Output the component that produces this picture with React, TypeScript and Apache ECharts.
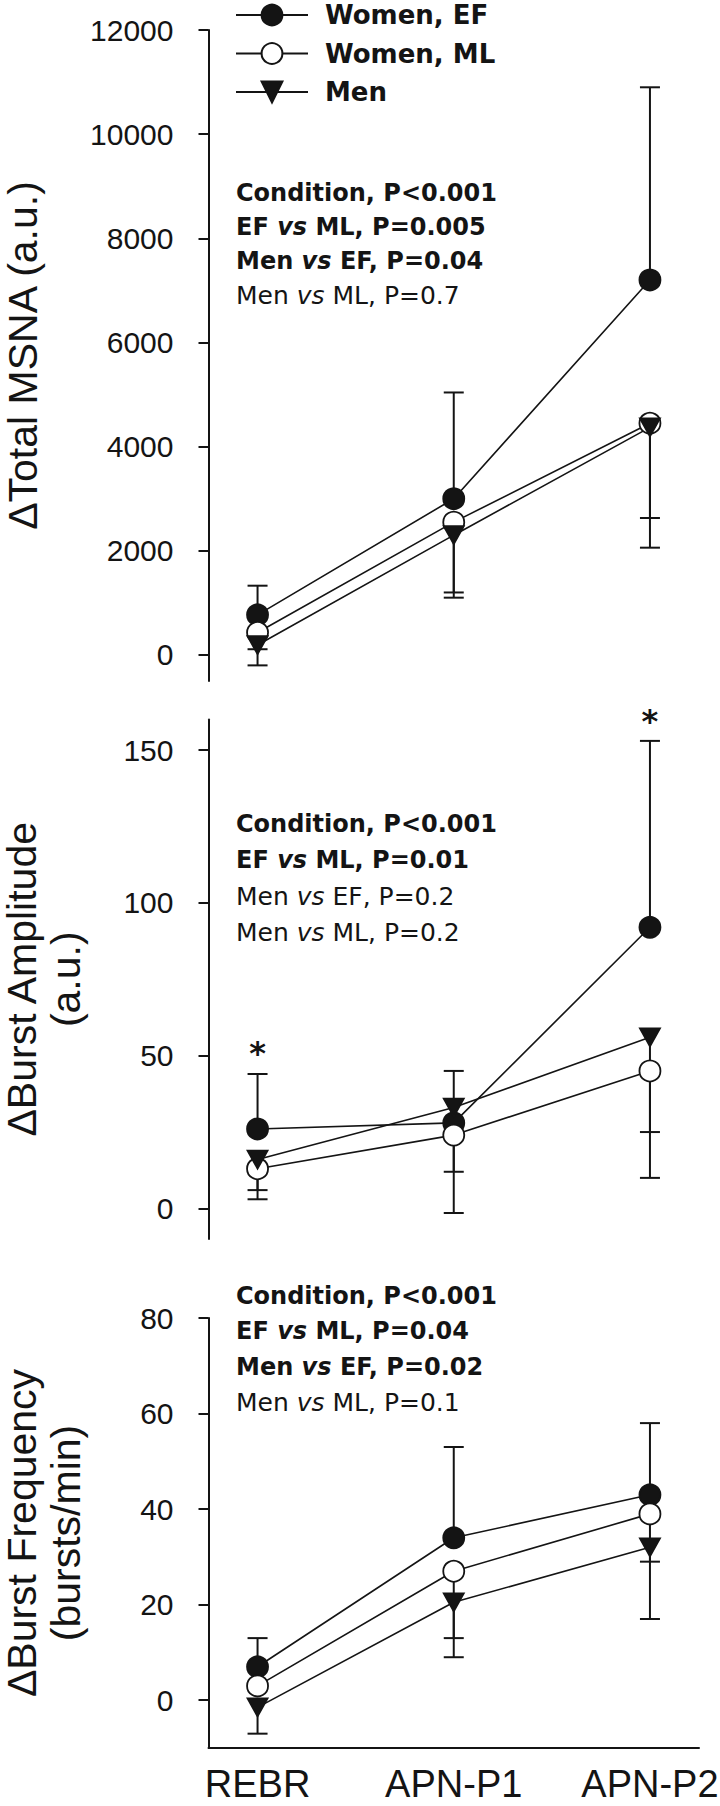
import React, { useEffect, useRef } from 'react';
import * as echarts from 'echarts';

const categories = ['REBR', 'APN-P1', 'APN-P2'];
const groupNames = ['Women, EF', 'Women, ML', 'Men'];

// ΔTotal MSNA (a.u.)
const msnaEF = [770, 3000, 7200];
const msnaEFUpper = [1330, 5040, 10900];
const msnaML = [430, 2550, 4450];
const msnaMLLower = [110, 1200, 2630];
const msnaMen = [190, 2300, 4370];
const msnaMenLower = [-200, 1100, 2060];
const msnaTicks = [0, 2000, 4000, 6000, 8000, 10000, 12000];

// ΔBurst Amplitude (a.u.)
const ampEF = [26, 28, 92];
const ampEFUpper = [44, 45, 153];
const ampML = [13, 24, 45];
const ampMLLower = [3, -1.5, 10];
const ampMen = [16, 33, 56];
const ampMenLower = [6, 12, 25];
const ampTicks = [0, 50, 100, 150];
const ampSignificance = [51, null, 159.5];

// ΔBurst Frequency (bursts/min)
const freqEF = [7, 34, 43];
const freqEFUpper = [13, 53, 58];
const freqML = [3, 27, 39];
const freqMLLower = [null, 13, 29];
const freqMen = [-1.5, 20.5, 32];
const freqMenLower = [-7, 9, 17];
const freqTicks = [0, 20, 40, 60, 80];

const msnaStats = [
  { text: 'Condition, P<0.001', bold: true },
  { text: 'EF vs ML, P=0.005', bold: true },
  { text: 'Men vs EF, P=0.04', bold: true },
  { text: 'Men vs ML, P=0.7', bold: false },
];
const ampStats = [
  { text: 'Condition, P<0.001', bold: true },
  { text: 'EF vs ML, P=0.01', bold: true },
  { text: 'Men vs EF, P=0.2', bold: false },
  { text: 'Men vs ML, P=0.2', bold: false },
];
const freqStats = [
  { text: 'Condition, P<0.001', bold: true },
  { text: 'EF vs ML, P=0.04', bold: true },
  { text: 'Men vs EF, P=0.02', bold: true },
  { text: 'Men vs ML, P=0.1', bold: false },
];

const WIDE = 'DejaVu Sans';
const ARIAL = 'Liberation Sans';
const INK = '#141414';
const TRIANGLE = 'path://M0,0L20,0L10,18Z';

const symbols = ['circle', 'circle', TRIANGLE];
const symbolSizes: any[] = [21, 21, [20, 18]];
const fills = [INK, '#ffffff', INK];

const panels = [
  {
    top: 30, height: 651, min: -500, max: 12000, ticks: msnaTicks,
    title: 'ΔTotal MSNA (a.u.)', nameGap: 164,
    values: [msnaEF, msnaML, msnaMen], errors: [msnaEFUpper, msnaMLLower, msnaMenLower],
    stats: msnaStats, statsY: 176, statsLH: 34,
  },
  {
    top: 719.5, height: 519.5, min: -10, max: 160, ticks: ampTicks,
    title: 'ΔBurst Amplitude\n(a.u.)', nameGap: 120.5,
    values: [ampEF, ampML, ampMen], errors: [ampEFUpper, ampMLLower, ampMenLower],
    stats: ampStats, statsY: 806, statsLH: 36,
  },
  {
    top: 1318, height: 430, min: -10, max: 80, ticks: freqTicks,
    title: 'ΔBurst Frequency\n(bursts/min)', nameGap: 120.5,
    values: [freqEF, freqML, freqMen], errors: [freqEFUpper, freqMLLower, freqMenLower],
    stats: freqStats, statsY: 1278, statsLH: 35.5,
  },
];

function statsRich(stats: { text: string; bold: boolean }[]) {
  return stats
    .map((s) => {
      const k = s.bold ? 'b' : 'r';
      const parts = s.text.split(' vs ');
      if (parts.length === 1) return `{${k}|${s.text}}`;
      return `{${k}|${parts[0]} }{${k}i|vs}{${k}| ${parts[1]}}`;
    })
    .join('\n');
}

function richStyles(lh: number) {
  return {
    b: { fontFamily: WIDE, fontSize: 24, fontWeight: 'bold', fill: INK, lineHeight: lh },
    bi: { fontFamily: WIDE, fontSize: 24, fontWeight: 'bold', fontStyle: 'italic', fill: INK, lineHeight: lh },
    r: { fontFamily: WIDE, fontSize: 25, fontWeight: 'normal', fill: INK, lineHeight: lh },
    ri: { fontFamily: WIDE, fontSize: 25, fontWeight: 'normal', fontStyle: 'italic', fill: INK, lineHeight: lh },
  };
}

const errorBarRender = (params: any, api: any) => {
  const x = api.value(0);
  const p0 = api.coord([x, api.value(1)]);
  const p1 = api.coord([x, api.value(2)]);
  const st = { stroke: INK, lineWidth: 2 };
  return {
    type: 'group',
    children: [
      { type: 'line', shape: { x1: p0[0], y1: p0[1], x2: p1[0], y2: p1[1] }, style: st },
      { type: 'line', shape: { x1: p1[0] - 10, y1: p1[1], x2: p1[0] + 10, y2: p1[1] }, style: st },
    ],
  };
};

const starRender = (params: any, api: any) => {
  const p = api.coord([api.value(0), api.value(1)]);
  return {
    type: 'text',
    x: p[0],
    y: p[1],
    style: {
      text: '*', fontFamily: WIDE, fontSize: 32, fontWeight: 'bold', fill: INK,
      align: 'center', verticalAlign: 'middle',
    },
  };
};

function buildOption() {
  const series: any[] = [];
  panels.forEach((p, i) => {
    p.values.forEach((vals, g) => {
      const errs = p.errors[g];
      series.push({
        type: 'custom',
        xAxisIndex: i,
        yAxisIndex: i,
        silent: true,
        z: 2,
        renderItem: errorBarRender,
        encode: { x: 0, y: [1, 2] },
        data: vals
          .map((v, k) => (errs[k] == null ? null : [k, v, errs[k]]))
          .filter((d) => d != null),
      });
    });
    p.values.forEach((vals, g) => {
      series.push({
        type: 'line',
        name: groupNames[g],
        xAxisIndex: i,
        yAxisIndex: i,
        z: 3,
        clip: false,
        color: INK,
        symbol: symbols[g],
        symbolSize: symbolSizes[g],
        showSymbol: true,
        itemStyle: { color: fills[g], borderColor: INK, borderWidth: 1.8, opacity: 1 },
        lineStyle: { color: INK, width: 1.6 },
        emphasis: { disabled: true },
        data: vals.map((v, k) => [k, v]),
      });
    });
  });
  series.push({
    type: 'custom',
    xAxisIndex: 1,
    yAxisIndex: 1,
    silent: true,
    z: 4,
    renderItem: starRender,
    data: ampSignificance
      .map((v, k) => (v == null ? null : [k, v]))
      .filter((d) => d != null),
  });

  const graphic = panels.map((p) => ({
    type: 'text',
    x: 236,
    y: p.statsY,
    silent: true,
    style: {
      text: statsRich(p.stats),
      rich: richStyles(p.statsLH),
      align: 'left',
      verticalAlign: 'top',
    },
  }));

  return {
    animation: false,
    backgroundColor: '#ffffff',
    textStyle: { fontFamily: ARIAL },
    legend: {
      data: groupNames,
      orient: 'vertical',
      left: 235,
      top: 2,
      padding: 0,
      itemWidth: 72,
      itemHeight: 26,
      itemGap: 12.5,
      selectedMode: false,
      textStyle: {
        fontFamily: WIDE, fontSize: 26, fontWeight: 'bold', color: INK,
        padding: [0, 0, 0, 12],
      },
    },
    grid: panels.map((p) => ({
      left: 208.5, width: 490.5, top: p.top, height: p.height,
      containLabel: false, outerBoundsMode: 'none',
    })),
    xAxis: panels.map((p, i) => ({
      type: 'value',
      gridIndex: i,
      min: -0.25,
      max: 2.25,
      show: i === 2,
      axisLine: { show: true, onZero: false, lineStyle: { color: INK, width: 2 } },
      axisTick: { show: false },
      splitLine: { show: false },
      axisLabel: {
        show: i === 2,
        customValues: [0, 1, 2],
        formatter: (v: number) => categories[Math.round(v)] ?? '',
        fontFamily: ARIAL,
        fontSize: 38,
        color: INK,
        margin: 17,
      },
    })),
    yAxis: panels.map((p, i) => ({
      type: 'value',
      gridIndex: i,
      min: p.min,
      max: p.max,
      axisLine: { show: true, onZero: false, lineStyle: { color: INK, width: 2 } },
      axisTick: { show: true, customValues: p.ticks, length: 10, lineStyle: { color: INK, width: 2 } },
      axisLabel: {
        customValues: p.ticks,
        formatter: (v: number) => String(v),
        fontFamily: ARIAL,
        fontSize: 30,
        color: INK,
        margin: 35,
      },
      splitLine: { show: false },
      name: p.title,
      nameLocation: 'middle',
      nameRotate: 90,
      nameGap: p.nameGap,
      nameMoveOverlap: false,
      nameTextStyle: { fontFamily: ARIAL, fontSize: 41, color: INK, lineHeight: 44, align: 'center' },
    })),
    graphic,
    series,
  };
}

export default function App() {
  const ref = useRef<HTMLDivElement>(null);
  useEffect(() => {
    if (!ref.current) return;
    const chart = echarts.init(ref.current, null, { renderer: 'svg' });
    chart.setOption(buildOption() as any);
    return () => chart.dispose();
  }, []);
  return (
    <div
      ref={ref}
      style={{ position: 'absolute', left: 0, top: 0, width: 720, height: 1806, background: '#fff' }}
    />
  );
}
